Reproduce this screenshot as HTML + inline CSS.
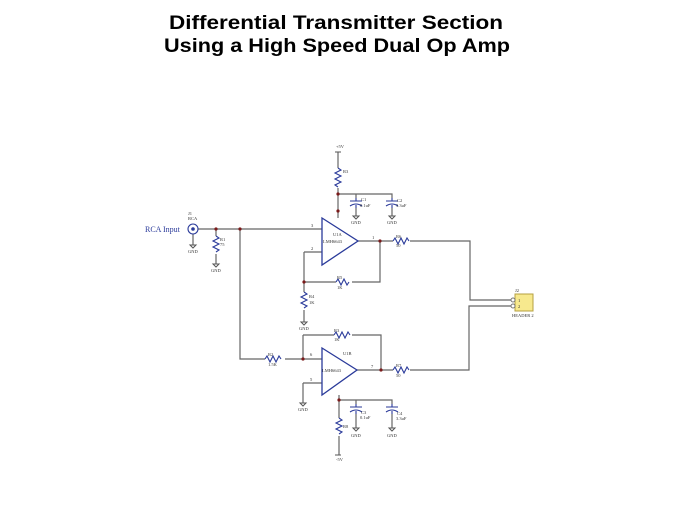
<!DOCTYPE html>
<html><head><style>body{margin:0;background:#fff}svg{display:block}</style></head><body>
<svg width="674" height="506" viewBox="0 0 674 506" xmlns="http://www.w3.org/2000/svg" font-family="Liberation Serif, serif">
<g font-family="Liberation Sans, sans-serif" font-weight="bold" font-size="19" fill="#000" text-anchor="middle">
<text x="336" y="29" textLength="334" lengthAdjust="spacingAndGlyphs">Differential Transmitter Section</text>
<text x="337" y="52" textLength="346" lengthAdjust="spacingAndGlyphs">Using a High Speed Dual Op Amp</text>
</g>
<g stroke="#666" stroke-width="1.2" fill="none">
<!-- top supply -->
<path d="M338 152V168M338 188V218M338 194H392V198M356 194V198"/>
<path d="M356 208V216M392 208V216"/>
<!-- input -->
<path d="M198 229H322M216 229V236M216 254V264M240 229V359H265M285 359H322"/>
<path d="M193 234V245"/>
<!-- op A -->
<path d="M358 241H393M410 241H470V300H512M304 252H322M304 252V292M304 310V322M304 282H336M352 282H380V241"/>
<!-- op B -->
<path d="M303 335H334M352 335H381V370M303 335V359M357 370H393M410 370H469V306H512M303 383H322M303 383V403"/>
<path d="M339 395V418M339 436V455M339 400H392V404M356 400V404M356 414V428M392 414V428"/>
</g>
<!-- resistors -->
<g stroke="#2a3a9a" stroke-width="1.1" fill="none">
<path d="M338 168l3 2-6 3 6 3-6 3 6 3-6 3 3 2"/>
<path d="M216 236l3 2-6 3 6 3-6 3 6 3-3 2"/>
<path d="M304 292l3 2-6 3 6 3-6 3 6 3-3 2"/>
<path d="M339 418l3 2-6 3 6 3-6 3 6 3-3 2"/>
<path d="M393 241l2-3 3 6 3-6 3 6 3-6 2 3"/>
<path d="M393 370l2-3 3 6 3-6 3 6 3-6 2 3"/>
<path d="M336 282l2-3 3 6 3-6 3 6 2-3"/>
<path d="M334 335l2-3 3 6 3-6 3 6 3-6 2 3"/>
<path d="M265 359l2-3 3 6 3-6 3 6 3-6 2 3"/>
<!-- caps -->
<path d="M350 201H362M350 206Q356 202 362 206M386 201H398M386 206Q392 202 398 206"/>
<path d="M350 407H362M350 412Q356 408 362 412M386 407H398M386 412Q392 408 398 412"/>
<path d="M356 201V198M356 205V208M392 201V198M392 205V208M356 407V404M356 411V414M392 407V404M392 411V414"/>
<!-- opamps -->
<path d="M322 218L358 241L322 265Z" stroke-width="1.3"/>
<path d="M322 348L357 370L322 395Z" stroke-width="1.3"/>
<circle cx="193" cy="229" r="5"/>
</g>
<circle cx="193" cy="229" r="1.8" fill="#2a3a9a"/>
<!-- GND symbols -->
<g stroke="#555" fill="none" stroke-width="1">
<path d="M190 245h6l-3 3z M213 264h6l-3 3z M301 322h6l-3 3z M300 403h6l-3 3z M353 216h6l-3 3z M389 216h6l-3 3z M353 428h6l-3 3z M389 428h6l-3 3z"/>
<path d="M335 152h6M335 455h6"/>
</g>
<g fill="#7a1a1a">
<circle cx="338" cy="194" r="1.6"/><circle cx="338" cy="211" r="1.6"/><circle cx="216" cy="229" r="1.6"/><circle cx="240" cy="229" r="1.6"/>
<circle cx="380" cy="241" r="1.6"/><circle cx="304" cy="282" r="1.6"/><circle cx="303" cy="359" r="1.6"/><circle cx="381" cy="370" r="1.6"/><circle cx="339" cy="400" r="1.6"/>
</g>
<!-- header -->
<rect x="515" y="294" width="18" height="17" fill="#f7e98e" stroke="#b5a040"/>
<g fill="#fff" stroke="#777"><circle cx="513" cy="300" r="2"/><circle cx="513" cy="306" r="2"/></g>
<g font-size="4.5" fill="#333">
<text x="518" y="302">1</text><text x="518" y="308">2</text>
<text x="515" y="292">J2</text><text x="512" y="317">HEADER 2</text>
<text x="336" y="148">+5V</text><text x="336" y="461">-5V</text>
<text x="343" y="173">R3</text><text x="361" y="201">C1</text><text x="360" y="207">0.1uF</text>
<text x="397" y="202">C2</text><text x="396" y="207">3.3uF</text>
<text x="188" y="215">J1</text><text x="188" y="220">RCA</text>
<text x="220" y="241">R1</text><text x="220" y="246">75</text>
<text x="309" y="298">R4</text><text x="309" y="304">1K</text>
<text x="337" y="279">R5</text><text x="337" y="289">1K</text>
<text x="396" y="238">R6</text><text x="396" y="247">50</text>
<text x="334" y="332">R3</text><text x="334" y="341">1K</text>
<text x="268" y="356">R2</text><text x="268" y="366">1.5K</text>
<text x="396" y="367">R7</text><text x="396" y="377">50</text>
<text x="361" y="414">C3</text><text x="360" y="419">0.1uF</text>
<text x="397" y="415">C4</text><text x="396" y="420">3.3uF</text>
<text x="343" y="428">R8</text>
<text x="333" y="236">U1A</text><text x="343" y="355">U1B</text>
<text x="323" y="243">LMH6643</text><text x="322" y="372">LMH6643</text>
<text x="311" y="227">3</text><text x="311" y="250">2</text><text x="372" y="239">1</text>
<text x="310" y="356">6</text><text x="310" y="381">5</text><text x="371" y="368">7</text>
<text x="188" y="253">GND</text><text x="211" y="272">GND</text><text x="299" y="330">GND</text><text x="298" y="411">GND</text>
<text x="351" y="224">GND</text><text x="387" y="224">GND</text><text x="351" y="437">GND</text><text x="387" y="437">GND</text>
</g>
<text x="145" y="232" font-size="8" fill="#2a3a9a">RCA Input</text>
</svg>
</body></html>
